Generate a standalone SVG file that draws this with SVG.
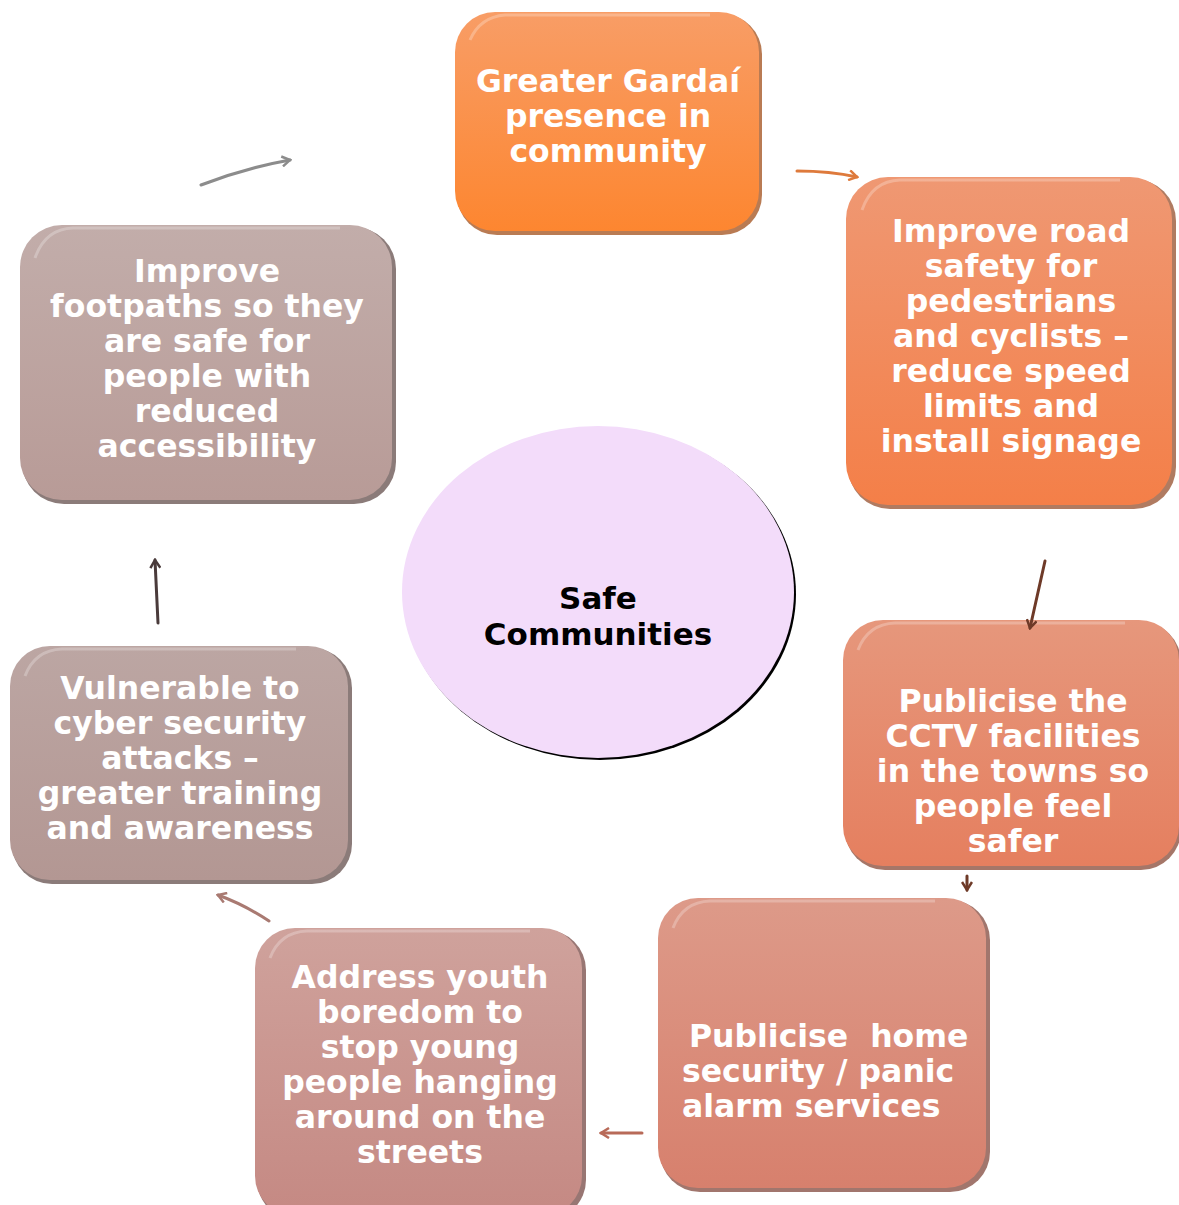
<svg xmlns="http://www.w3.org/2000/svg" width="1179" height="1205" viewBox="0 0 1179 1205">
<style>
.t{font-family:"DejaVu Sans","Verdana",sans-serif;font-weight:bold;font-size:31.5px;fill:#ffffff;text-anchor:middle}
.tl{font-family:"DejaVu Sans","Verdana",sans-serif;font-weight:bold;font-size:31.5px;fill:#ffffff}
.c{font-family:"DejaVu Sans","Verdana",sans-serif;font-weight:bold;font-size:31px;fill:#000000;text-anchor:middle}
.hl{fill:none;stroke:#ffffff;stroke-opacity:0.25;stroke-width:3}
.conn{fill:none;stroke-width:3;stroke-linecap:round}
</style>
<defs>
<linearGradient id="g1" x1="0" y1="0" x2="0" y2="1"><stop offset="0" stop-color="#f89d66"/><stop offset="1" stop-color="#fd8630"/></linearGradient>
<linearGradient id="g2" x1="0" y1="0" x2="0" y2="1"><stop offset="0" stop-color="#ef9873"/><stop offset="1" stop-color="#f47f48"/></linearGradient>
<linearGradient id="g3" x1="0" y1="0" x2="0" y2="1"><stop offset="0" stop-color="#e6977c"/><stop offset="1" stop-color="#e57f5f"/></linearGradient>
<linearGradient id="g4" x1="0" y1="0" x2="0" y2="1"><stop offset="0" stop-color="#dd9a89"/><stop offset="1" stop-color="#d7806d"/></linearGradient>
<linearGradient id="g5" x1="0" y1="0" x2="0" y2="1"><stop offset="0" stop-color="#cfa29c"/><stop offset="1" stop-color="#c58983"/></linearGradient>
<linearGradient id="g6" x1="0" y1="0" x2="0" y2="1"><stop offset="0" stop-color="#bca6a3"/><stop offset="1" stop-color="#b39793"/></linearGradient>
<linearGradient id="g7" x1="0" y1="0" x2="0" y2="1"><stop offset="0" stop-color="#c2adaa"/><stop offset="1" stop-color="#b89b97"/></linearGradient>
<marker id="m1" viewBox="0 0 12 12" refX="10" refY="6" markerWidth="12" markerHeight="12" markerUnits="userSpaceOnUse" orient="auto"><path d="M2,1 L10,6 L2,11" fill="none" stroke="#8c8c8c" stroke-width="2.5"/></marker>
<marker id="m2" viewBox="0 0 12 12" refX="10" refY="6" markerWidth="12" markerHeight="12" markerUnits="userSpaceOnUse" orient="auto"><path d="M2,1 L10,6 L2,11" fill="none" stroke="#de7a3c" stroke-width="2.5"/></marker>
<marker id="m3" viewBox="0 0 12 12" refX="10" refY="6" markerWidth="12" markerHeight="12" markerUnits="userSpaceOnUse" orient="auto"><path d="M2,1 L10,6 L2,11" fill="none" stroke="#6e3a28" stroke-width="2.5"/></marker>
<marker id="m5" viewBox="0 0 12 12" refX="10" refY="6" markerWidth="12" markerHeight="12" markerUnits="userSpaceOnUse" orient="auto"><path d="M2,1 L10,6 L2,11" fill="none" stroke="#b86a58" stroke-width="2.5"/></marker>
<marker id="m6" viewBox="0 0 12 12" refX="10" refY="6" markerWidth="12" markerHeight="12" markerUnits="userSpaceOnUse" orient="auto"><path d="M2,1 L10,6 L2,11" fill="none" stroke="#a97a72" stroke-width="2.5"/></marker>
<marker id="m7" viewBox="0 0 12 12" refX="10" refY="6" markerWidth="12" markerHeight="12" markerUnits="userSpaceOnUse" orient="auto"><path d="M2,1 L10,6 L2,11" fill="none" stroke="#4a3b3b" stroke-width="2.5"/></marker>
</defs>
<rect width="1179" height="1205" fill="#ffffff"/>

<g id="center">
<ellipse cx="600" cy="594" rx="196" ry="166" fill="#000000"/>
<ellipse cx="598" cy="592" rx="196" ry="166" fill="#f3dcfa"/>
<text class="c" x="598" y="609">Safe</text>
<text class="c" x="598" y="645">Communities</text>
</g>

<g id="n1">
<rect x="457" y="14" width="305" height="221" rx="40" fill="#a85a28" opacity="0.8"/>
<rect x="455" y="12" width="304" height="219" rx="40" fill="url(#g1)"/>
<path class="hl" d="M470,40 Q480,17 505,15 L710,15"/>
<text class="t" x="608" y="92">Greater Gardaí</text>
<text class="t" x="608" y="127">presence in</text>
<text class="t" x="608" y="162">community</text>
</g>

<g id="n2">
<rect x="848" y="179" width="328" height="330" rx="42" fill="#9c5a3a" opacity="0.8"/>
<rect x="846" y="177" width="326" height="328" rx="42" fill="url(#g2)"/>
<path class="hl" d="M862,210 Q872,181 900,180 L1120,180"/>
<text class="t" x="1011" y="242">Improve road</text>
<text class="t" x="1011" y="277">safety for</text>
<text class="t" x="1011" y="312">pedestrians</text>
<text class="t" x="1011" y="347">and cyclists –</text>
<text class="t" x="1011" y="382">reduce speed</text>
<text class="t" x="1011" y="417">limits and</text>
<text class="t" x="1011" y="452">install signage</text>
</g>

<g id="n3">
<rect x="845" y="622" width="336" height="248" rx="40" fill="#8e5442" opacity="0.8"/>
<rect x="843" y="620" width="336" height="246" rx="40" fill="url(#g3)"/>
<path class="hl" d="M858,650 Q868,624 895,623 L1125,623"/>
<text class="t" x="1013" y="712">Publicise the</text>
<text class="t" x="1013" y="747">CCTV facilities</text>
<text class="t" x="1013" y="782">in the towns so</text>
<text class="t" x="1013" y="817">people feel</text>
<text class="t" x="1013" y="852">safer</text>
</g>

<g id="n4">
<rect x="660" y="900" width="330" height="292" rx="40" fill="#8a5448" opacity="0.8"/>
<rect x="658" y="898" width="328" height="290" rx="40" fill="url(#g4)"/>
<path class="hl" d="M673,928 Q683,902 710,901 L935,901"/>
<text class="tl" x="689" y="1047" xml:space="preserve">Publicise  home</text>
<text class="tl" x="682" y="1082">security / panic</text>
<text class="tl" x="682" y="1117">alarm services</text>
</g>

<g id="n5">
<rect x="257" y="930" width="329" height="290" rx="40" fill="#7e5450" opacity="0.8"/>
<rect x="255" y="928" width="327" height="288" rx="40" fill="url(#g5)"/>
<path class="hl" d="M270,958 Q280,932 307,931 L530,931"/>
<text class="t" x="420" y="988">Address youth</text>
<text class="t" x="420" y="1023">boredom to</text>
<text class="t" x="420" y="1058">stop young</text>
<text class="t" x="420" y="1093">people hanging</text>
<text class="t" x="420" y="1128">around on the</text>
<text class="t" x="420" y="1163">streets</text>
</g>

<g id="n6">
<rect x="12" y="648" width="340" height="236" rx="40" fill="#6e5a58" opacity="0.8"/>
<rect x="10" y="646" width="338" height="234" rx="40" fill="url(#g6)"/>
<path class="hl" d="M25,676 Q35,650 62,649 L296,649"/>
<text class="t" x="180" y="699">Vulnerable to</text>
<text class="t" x="180" y="734">cyber security</text>
<text class="t" x="180" y="769">attacks –</text>
<text class="t" x="180" y="804">greater training</text>
<text class="t" x="180" y="839">and awareness</text>
</g>

<g id="n7">
<rect x="22" y="227" width="374" height="277" rx="42" fill="#6e5a58" opacity="0.8"/>
<rect x="20" y="225" width="372" height="275" rx="42" fill="url(#g7)"/>
<path class="hl" d="M35,258 Q45,229 73,228 L340,228"/>
<text class="t" x="207" y="282">Improve</text>
<text class="t" x="207" y="317">footpaths so they</text>
<text class="t" x="207" y="352">are safe for</text>
<text class="t" x="207" y="387">people with</text>
<text class="t" x="207" y="422">reduced</text>
<text class="t" x="207" y="457">accessibility</text>
</g>

<g id="connectors">
<path class="conn" d="M201,185 Q245,168 290,160" stroke="#8c8c8c" marker-end="url(#m1)"/>
<path class="conn" d="M797,171 Q830,171 857,177" stroke="#de7a3c" marker-end="url(#m2)"/>
<path class="conn" d="M1045,561 L1030,628" stroke="#6e3a28" marker-end="url(#m3)"/>
<path class="conn" d="M967,876 L967,890" stroke="#6e3a28" marker-end="url(#m3)"/>
<path class="conn" d="M642,1133 L601,1133" stroke="#b86a58" marker-end="url(#m5)"/>
<path class="conn" d="M269,921 Q245,905 218,895" stroke="#a97a72" marker-end="url(#m6)"/>
<path class="conn" d="M158,623 L155,560" stroke="#4a3b3b" marker-end="url(#m7)"/>
</g>
</svg>
